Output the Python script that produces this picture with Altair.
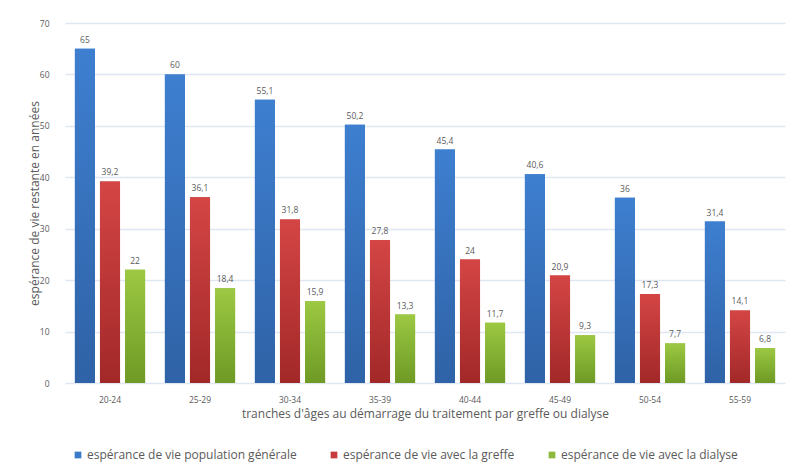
import altair as alt
import pandas as pd

categories = ["20-24", "25-29", "30-34", "35-39", "40-44", "45-49", "50-54", "55-59"]
series = [
    "espérance de vie population générale",
    "espérance de vie avec la greffe",
    "espérance de vie avec la dialyse",
]
pop = [65, 60, 55.1, 50.2, 45.4, 40.6, 36, 31.4]
greffe = [39.2, 36.1, 31.8, 27.8, 24, 20.9, 17.3, 14.1]
dialyse = [22, 18.4, 15.9, 13.3, 11.7, 9.3, 7.7, 6.8]
colors = ["#3B79C9", "#C63B3B", "#8CB93B"]
grad_top = ["#3E7FD0", "#D44545", "#9CC843"]
grad_bot = ["#2F62A6", "#A22828", "#6E9A25"]

rows = []
for s, vals in zip(series, [pop, greffe, dialyse]):
    for c, v in zip(categories, vals):
        lab = (f"{v:g}").replace(".", ",")
        rows.append({"cat": c, "series": s, "value": v, "label": lab})
df = pd.DataFrame(rows)

FONT = "Open Sans"
GREY = "#5a5a5a"

x_enc = alt.X(
    "cat:N",
    sort=categories,
    scale=alt.Scale(paddingInner=0.22, paddingOuter=0.11),
    axis=alt.Axis(
        title="tranches d'âges au démarrage du traitement par greffe ou dialyse",
        labelAngle=0, ticks=False, domain=False, labelPadding=12,
        titlePadding=5, labelFontSize=8.5, titleFontSize=12,
        labelColor=GREY, titleColor=GREY, titleFontWeight="normal",
        labelFont=FONT, titleFont=FONT,
    ),
)
xoff = alt.XOffset("series:N", sort=series, scale=alt.Scale(paddingInner=0.2, paddingOuter=0))
y_enc = alt.Y(
    "value:Q",
    scale=alt.Scale(domain=[0, 70]),
    axis=alt.Axis(
        title="espérance de vie restante en années",
        values=[0, 10, 20, 30, 40, 50, 60, 70], ticks=False, domain=False,
        labelPadding=16, titlePadding=-2, gridColor="#dfe8f2", gridWidth=1.5,
        labelFontSize=8.5, titleFontSize=12, labelColor=GREY, titleColor=GREY,
        titleFontWeight="normal", labelFont=FONT, titleFont=FONT,
    ),
)

base = alt.Chart(df)

bars = base.mark_bar().encode(
    x=x_enc,
    xOffset=xoff,
    y=y_enc,
    color=alt.Color(
        "series:N",
        sort=series,
        scale=alt.Scale(domain=series, range=colors),
        legend=alt.Legend(
            title=None, orient="none", direction="horizontal",
            legendX=7, legendY=426, symbolType="square", symbolSize=45,
            labelFontSize=12, labelColor=GREY, labelFont=FONT, labelLimit=0,
            columnPadding=31, labelOffset=3, symbolStrokeWidth=0,
        ),
    ),
)

grad_layers = []
for s, t, b in zip(series, grad_top, grad_bot):
    grad_layers.append(
        base.transform_filter(alt.datum.series == s)
        .mark_bar(
            color=alt.Gradient(
                gradient="linear",
                stops=[alt.GradientStop(color=t, offset=0), alt.GradientStop(color=b, offset=1)],
                x1=0, x2=0, y1=0, y2=1,
            )
        )
        .encode(x=x_enc, xOffset=xoff, y=y_enc)
    )

labels = base.mark_text(dy=-9, fontSize=8.5, color=GREY, font=FONT).encode(
    x=x_enc, xOffset=xoff, y=y_enc, text="label:N"
)

chart = (
    alt.layer(bars, *grad_layers, labels)
    .properties(
        width=720,
        height=360,
        autosize=alt.AutoSizeParams(type="none"),
        padding={"left": 65, "top": 23, "right": 2, "bottom": 82},
        background="white",
    )
    .configure_view(stroke=None)
)

chart.save("out.html", embed_options={"renderer": "svg", "actions": False})
